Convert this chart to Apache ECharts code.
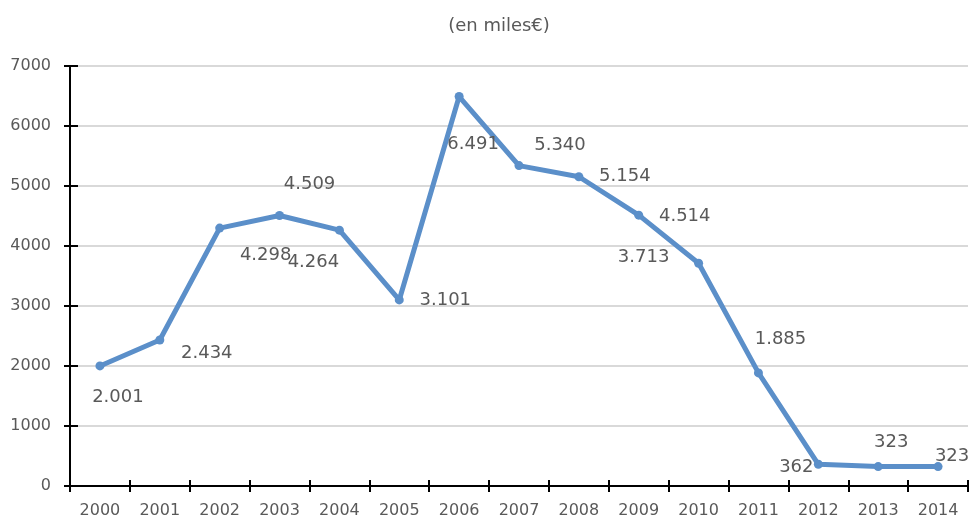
<!DOCTYPE html>
<html>
<head>
<meta charset="utf-8">
<script src="https://cdn.jsdelivr.net/npm/echarts@6/dist/echarts.min.js"></script>
<style>
html,body{margin:0;padding:0;background:#fff;}
#chart{width:971px;height:523px;}
</style>
</head>
<body>
<div id="chart"></div>
<script>
// ---- data ----
const titleText = '(en miles€)';
const years = ['2000','2001','2002','2003','2004','2005','2006','2007','2008','2009','2010','2011','2012','2013','2014'];
const values = [2001, 2434, 4298, 4509, 4264, 3101, 6491, 5340, 5154, 4514, 3713, 1885, 362, 323, 323];
const yTicks = [0, 1000, 2000, 3000, 4000, 5000, 6000, 7000];

// ---- label placement (style, px offsets from the point) ----
const labelOffsets = [
  [18, 31], [47, 13], [46, 27], [30, -31], [-26, 32], [46, 0], [14, 48],
  [41, -20], [46, 0], [46, 1], [-55, -6], [22, -34], [-22, 3], [13, -24], [14, -10]
];

const fontFam = '"DejaVu Sans", sans-serif';
const txtColor = '#595959';
const lineColor = '#5B8FC9';

function fmt(v){ return String(v).replace(/\B(?=(\d{3})+(?!\d))/g, '.'); }

const chart = echarts.init(document.getElementById('chart'), null, {renderer:'canvas'});
const yMin = yTicks[0], yMax = yTicks[yTicks.length-1], yInt = yTicks[1]-yTicks[0];

chart.setOption({
  animation: false,
  backgroundColor: '#ffffff',
  title: {
    text: titleText,
    left: 494, top: 12, textAlign: 'center',
    textStyle: {fontFamily: fontFam, fontSize: 18, fontWeight: 'normal', color: txtColor}
  },
  grid: {left: 70, right: 3, top: 66, bottom: 37, containLabel: false},
  xAxis: [{
    type: 'category', data: years, boundaryGap: true,
    axisLine: {show: true, lineStyle: {color: '#000', width: 2}},
    axisTick: {show: true, length: 6, lineStyle: {color: '#000', width: 2}},
    axisLabel: {fontFamily: fontFam, fontSize: 16, color: txtColor, margin: 17},
    splitLine: {show: false}
  },{
    type: 'category', data: years, boundaryGap: true, position: 'bottom',
    axisLine: {show: false},
    axisTick: {show: true, inside: true, length: 6, lineStyle: {color: '#000', width: 2}},
    axisLabel: {show: false},
    splitLine: {show: false}
  }],
  yAxis: [{
    type: 'value', min: yMin, max: yMax, interval: yInt,
    axisLine: {show: true, lineStyle: {color: '#000', width: 2}},
    axisTick: {show: true, length: 6, lineStyle: {color: '#000', width: 2}},
    axisLabel: {fontFamily: fontFam, fontSize: 16, color: txtColor, margin: 19, formatter: v => String(v)},
    splitLine: {show: true, lineStyle: {color: '#CCCCCC', width: 1.5}}
  },{
    type: 'value', min: yMin, max: yMax, interval: yInt, position: 'left',
    axisLine: {show: false},
    axisTick: {show: true, inside: true, length: 8, lineStyle: {color: '#000', width: 2}},
    axisLabel: {show: false},
    splitLine: {show: false}
  }],
  series: [{
    type: 'line',
    xAxisIndex: 0, yAxisIndex: 0,
    data: values.map((v, i) => ({value: v, label: {offset: labelOffsets[i]}})),
    symbol: 'circle', symbolSize: 9,
    itemStyle: {color: lineColor},
    lineStyle: {color: lineColor, width: 5, cap: 'round', join: 'round'},
    label: {
      show: true, position: 'inside', align: 'center', verticalAlign: 'middle',
      fontFamily: fontFam, fontSize: 18, color: txtColor,
      formatter: p => fmt(p.value)
    },
    z: 3
  }]
});
</script>
</body>
</html>
